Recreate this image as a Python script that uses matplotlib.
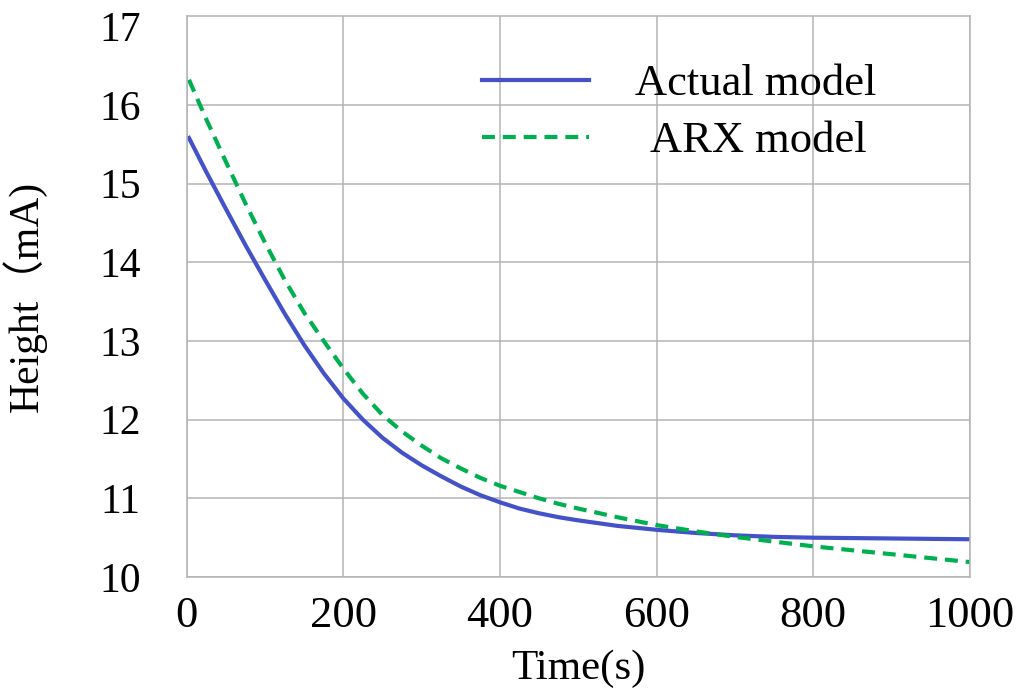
import matplotlib
matplotlib.use('Agg')
import matplotlib.pyplot as plt
import matplotlib.transforms as mtransforms

plt.rcParams['font.family'] = ['Liberation Serif', 'Noto Sans CJK SC']

# values
t_actual = [3, 25, 50, 75, 100, 125, 150, 175, 200, 225, 250, 275, 300, 325, 350, 375, 400,
            425, 450, 475, 500, 550, 600, 650, 700, 750, 800, 900, 1000]
h_actual = [15.58, 15.15, 14.68, 14.22, 13.78, 13.35, 12.95, 12.59, 12.27, 12.00, 11.77, 11.58, 11.42,
            11.28, 11.15, 11.04, 10.95, 10.87, 10.81, 10.76, 10.72, 10.65, 10.60, 10.56, 10.53, 10.51,
            10.50, 10.49, 10.48]

t_arx = [3, 17, 25, 50, 75, 100, 125, 150, 175, 200, 225, 250, 275, 300, 325, 350, 375, 400,
         425, 450, 475, 500, 550, 600, 650, 700, 750, 800, 850, 900, 950, 1000]
h_arx = [16.32, 16.0, 15.82, 15.28, 14.75, 14.25, 13.78, 13.36, 13.0, 12.65, 12.33, 12.06, 11.85, 11.67,
         11.51, 11.38, 11.26, 11.16, 11.08, 11.00, 10.93, 10.87, 10.76, 10.66, 10.58, 10.51, 10.45,
         10.39, 10.34, 10.29, 10.24, 10.19]

x_ticks = [0, 200, 400, 600, 800, 1000]
y_ticks = [10, 11, 12, 13, 14, 15, 16, 17]

fig = plt.figure(figsize=(10.16, 6.88), dpi=100)
ax = fig.add_axes([0.1837, 0.1613, 0.7710, 0.8154])

ax.plot(t_actual, h_actual, color='#4352C8', lw=3.0, label='Actual model')
ax.plot(t_arx, h_arx, color='#00B050', lw=3.0, dashes=(3.1, 1.9), label='ARX model')

ax.set_xlim(0, 1000)
ax.set_ylim(10, 17.13)
ax.set_xticks(x_ticks)
ax.set_yticks(y_ticks)
ax.grid(color='#b4b4b4', lw=1.1)
ax.get_ygridlines()[-1].set_visible(False)
ax.set_axisbelow(True)
for s in ax.spines.values():
    s.set_color('#b4b4b4')
    s.set_linewidth(1.1)
ax.tick_params(axis='both', length=0)
ax.tick_params(axis='x', labelsize=32, pad=14)
ax.tick_params(axis='y', labelsize=30, pad=33)

ax.set_xlabel('Time(s)', fontsize=31)
ax.xaxis.set_label_coords(0.5, -0.13)
ax.set_ylabel('Height（mA)', fontsize=30)
ax.yaxis.set_label_coords(-0.178, 0.5)

leg = ax.legend(loc='upper left', bbox_to_anchor=(0.377, 0.914), frameon=False,
                fontsize=32, handlelength=2.4, handletextpad=1.05,
                labelspacing=0.38, borderpad=0, borderaxespad=0)
t2 = leg.get_texts()[1]
t2.set_transform(t2.get_transform() + mtransforms.ScaledTranslation(0.15, 0, fig.dpi_scale_trans))

fig.savefig('out.png', dpi=100)
